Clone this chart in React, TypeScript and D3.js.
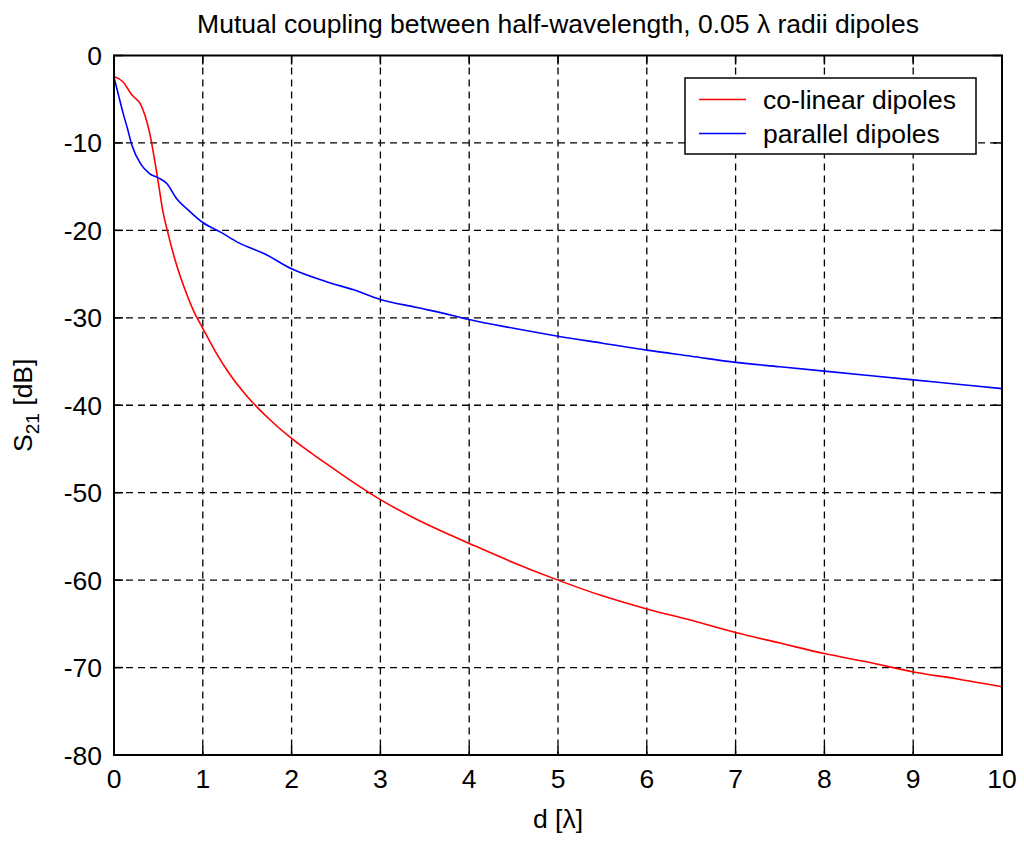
import React from "react";
import * as d3 from "d3";

const colinearX = [0, 0.1, 0.2, 0.3, 0.35, 0.4, 0.45, 0.5, 0.55, 0.6, 0.7, 0.8, 0.9, 1.0, 1.15, 1.3, 1.5, 1.75, 2.0, 2.35, 2.65, 3.0, 3.4, 3.8, 4.0, 4.5, 5.0, 5.5, 6, 6.5, 7, 7.5, 8, 8.5, 9, 9.5, 10];
const colinearY = [-2.4, -3.0, -4.5, -5.6, -6.9, -8.8, -11.5, -14.6, -17.8, -20, -23.8, -26.8, -29.3, -31.2, -34.0, -36.4, -39.0, -41.6, -43.8, -46.4, -48.5, -50.8, -53.0, -54.9, -55.8, -58.0, -60.0, -61.8, -63.3, -64.6, -66.0, -67.2, -68.4, -69.4, -70.5, -71.3, -72.2];

const parallelX = [0, 0.05, 0.1, 0.15, 0.2, 0.3, 0.4, 0.5, 0.6, 0.7, 0.85, 1.0, 1.2, 1.4, 1.7, 2.0, 2.4, 2.7, 3.0, 3.4, 3.8, 4.0, 4.5, 5, 5.5, 6, 6.5, 7, 7.5, 8, 8.5, 9, 9.5, 10];
const parallelY = [-2.5, -4.5, -6.5, -8.3, -10.2, -12.4, -13.5, -14.0, -14.7, -16.3, -17.8, -19.1, -20.2, -21.4, -22.7, -24.4, -25.9, -26.8, -27.9, -28.8, -29.7, -30.2, -31.2, -32.1, -32.9, -33.7, -34.4, -35.1, -35.6, -36.1, -36.6, -37.1, -37.6, -38.1];

const xTicks = [0, 1, 2, 3, 4, 5, 6, 7, 8, 9, 10];
const yTicks = [0, -10, -20, -30, -40, -50, -60, -70, -80];
const seriesNames = ["co-linear dipoles", "parallel dipoles"];
const seriesColors = ["#ff0000", "#0000ff"];
const title = "Mutual coupling between half-wavelength, 0.05 \u03bb radii dipoles";

const W = 1024, H = 844;
const L = 114, R = 1002, T = 55.5, B = 755;
const FONT = "'Liberation Sans', Arial, sans-serif";
const FS = 26.5;

export default function App() {
  const x = d3.scaleLinear().domain([0, 10]).range([L, R]);
  const y = d3.scaleLinear().domain([-80, 0]).range([B, T]);
  const line = d3.line<[number, number]>().x(d => x(d[0])).y(d => y(d[1])).curve(d3.curveMonotoneX);
  const series = [
    colinearX.map((v, i) => [v, colinearY[i]] as [number, number]),
    parallelX.map((v, i) => [v, parallelY[i]] as [number, number]),
  ];
  const tickLen = 9;
  return (
    <svg width={W} height={H} style={{ position: "absolute", left: 0, top: 0, background: "#fff" }} fontFamily={FONT}>
      <rect x={0} y={0} width={W} height={H} fill="#fff" />
      {xTicks.slice(1, -1).map(t => (
        <line key={"gx" + t} x1={x(t)} x2={x(t)} y1={T} y2={B} stroke="#000" strokeWidth={1.3} strokeDasharray="7,5" />
      ))}
      {yTicks.slice(1, -1).map(t => (
        <line key={"gy" + t} x1={L} x2={R} y1={y(t)} y2={y(t)} stroke="#000" strokeWidth={1.3} strokeDasharray="7,5" />
      ))}
      {xTicks.map(t => (
        <g key={"tx" + t}>
          <line x1={x(t)} x2={x(t)} y1={B} y2={B - tickLen} stroke="#000" strokeWidth={1.5} />
          <line x1={x(t)} x2={x(t)} y1={T} y2={T + tickLen} stroke="#000" strokeWidth={1.5} />
          <text x={x(t)} y={788} textAnchor="middle" fontSize={FS}>{t}</text>
        </g>
      ))}
      {yTicks.map(t => (
        <g key={"ty" + t}>
          <line x1={L} x2={L + tickLen} y1={y(t)} y2={y(t)} stroke="#000" strokeWidth={1.5} />
          <line x1={R} x2={R - tickLen} y1={y(t)} y2={y(t)} stroke="#000" strokeWidth={1.5} />
          <text x={102} y={y(t)} dy="0.36em" textAnchor="end" fontSize={FS}>{t}</text>
        </g>
      ))}
      {series.map((s, i) => (
        <path key={"s" + i} d={line(s) || ""} fill="none" stroke={seriesColors[i]} strokeWidth={1.6} />
      ))}
      <rect x={L} y={T} width={R - L} height={B - T} fill="none" stroke="#000" strokeWidth={2} />
      <rect x={685} y={78} width={291} height={76} fill="#fff" stroke="#000" strokeWidth={1.5} />
      {seriesNames.map((n, i) => (
        <g key={"lg" + i}>
          <line x1={699} x2={746} y1={99.5 + i * 34} y2={99.5 + i * 34} stroke={seriesColors[i]} strokeWidth={1.6} />
          <text x={763} y={99.5 + i * 34} dy="0.36em" fontSize={FS}>{n}</text>
        </g>
      ))}
      <text x={(L + R) / 2} y={33} textAnchor="middle" fontSize={FS}>{title}</text>
      <text x={(L + R) / 2} y={828} textAnchor="middle" fontSize={FS}>d [{"\u03bb"}]</text>
      <text transform={`translate(32, ${(T + B) / 2}) rotate(-90)`} textAnchor="middle" fontSize={FS}>
        S<tspan fontSize={19} dy={7}>21</tspan><tspan dy={-7}>{"  [dB]"}</tspan>
      </text>
    </svg>
  );
}
